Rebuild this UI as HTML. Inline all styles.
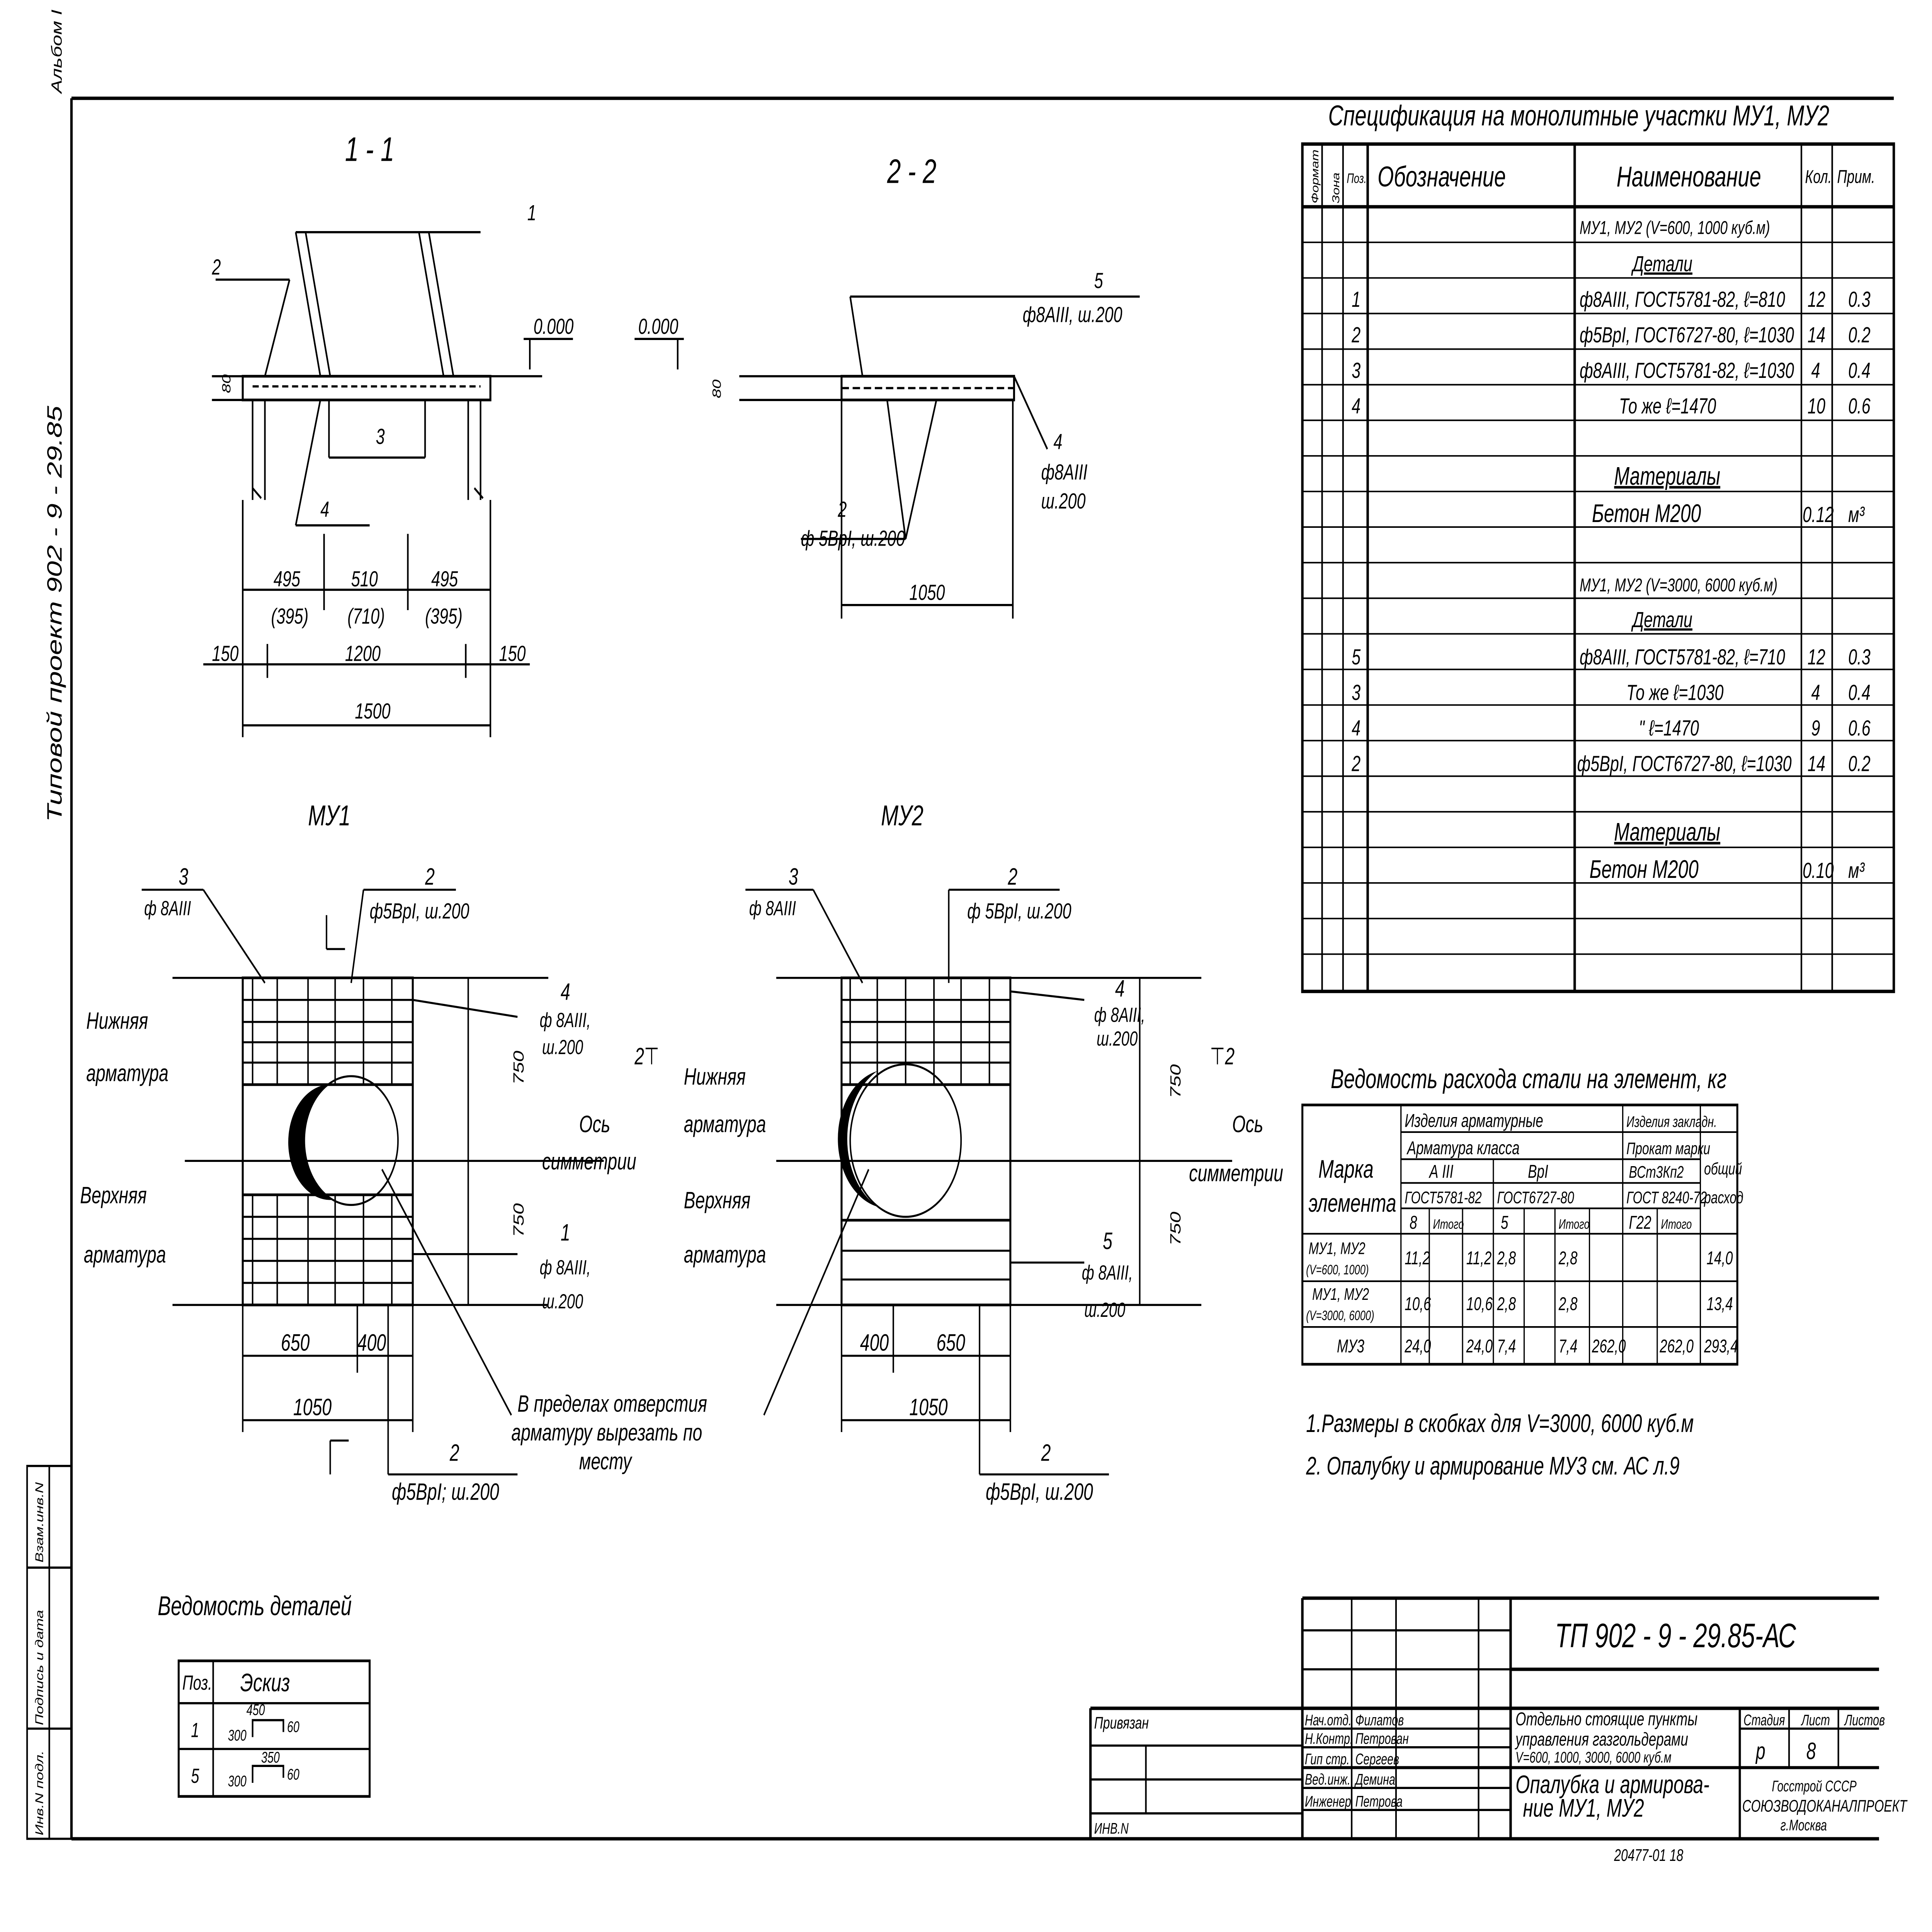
<!DOCTYPE html>
<html><head><meta charset="utf-8">
<style>
html,body{margin:0;padding:0;background:#fff;width:100vw;height:100vh;overflow:hidden;}
svg{display:block;width:100vw;height:100vh;}
text{font-family:"Liberation Sans","DejaVu Sans",sans-serif;font-style:italic;fill:#000;}
</style></head>
<body>
<svg xmlns="http://www.w3.org/2000/svg" viewBox="0 0 1568 1140" preserveAspectRatio="none">
<rect width="1568" height="1140" fill="#fff"/>
<g stroke="#000" fill="none" stroke-width="1.3">
<line x1="58" y1="58" x2="1537" y2="58" stroke-width="2"/>
<line x1="58" y1="58" x2="58" y2="1085" stroke-width="2"/>
<line x1="58" y1="1085" x2="1525" y2="1085" stroke-width="2"/>
<rect x="22" y="865" width="36" height="220"/>
<line x1="40" y1="865" x2="40" y2="1085"/>
<line x1="22" y1="925" x2="58" y2="925"/>
<line x1="22" y1="1020" x2="58" y2="1020"/>
</g>
<text transform="translate(50,485) rotate(-90)" font-size="17">Типовой  проект  902 - 9 - 29.85</text>
<text transform="translate(50,55) rotate(-90)" font-size="12">Альбом I</text>
<text transform="translate(35,1083) rotate(-90)" font-size="9">Инв.N подл.</text>
<text transform="translate(35,1018) rotate(-90)" font-size="9">Подпись и дата</text>
<text transform="translate(35,922) rotate(-90)" font-size="9">Взам.инв.N</text>

<text x="1078" y="74" font-size="17">Спецификация на монолитные участки МУ1, МУ2</text>
<g stroke="#000" fill="none" stroke-width="1.3">
<rect x="1057" y="85" width="480" height="500" stroke-width="2"/>
<line x1="1057" y1="122" x2="1537" y2="122" stroke-width="2"/>
<line x1="1073" y1="85" x2="1073" y2="585"/>
<line x1="1090" y1="85" x2="1090" y2="585"/>
<line x1="1110" y1="85" x2="1110" y2="585" stroke-width="2"/>
<line x1="1278" y1="85" x2="1278" y2="585" stroke-width="2"/>
<line x1="1462" y1="85" x2="1462" y2="585"/>
<line x1="1487" y1="85" x2="1487" y2="585"/>
</g>
<g stroke="#000" stroke-width="0.9">
<line x1="1057" y1="143" x2="1537" y2="143"/><line x1="1057" y1="164" x2="1537" y2="164"/>
<line x1="1057" y1="185" x2="1537" y2="185"/><line x1="1057" y1="206" x2="1537" y2="206"/>
<line x1="1057" y1="227" x2="1537" y2="227"/><line x1="1057" y1="248" x2="1537" y2="248"/>
<line x1="1057" y1="269" x2="1537" y2="269"/><line x1="1057" y1="290" x2="1537" y2="290"/>
<line x1="1057" y1="311" x2="1537" y2="311"/><line x1="1057" y1="332" x2="1537" y2="332"/>
<line x1="1057" y1="353" x2="1537" y2="353"/><line x1="1057" y1="374" x2="1537" y2="374"/>
<line x1="1057" y1="395" x2="1537" y2="395"/><line x1="1057" y1="416" x2="1537" y2="416"/>
<line x1="1057" y1="437" x2="1537" y2="437"/><line x1="1057" y1="458" x2="1537" y2="458"/>
<line x1="1057" y1="479" x2="1537" y2="479"/><line x1="1057" y1="500" x2="1537" y2="500"/>
<line x1="1057" y1="521" x2="1537" y2="521"/><line x1="1057" y1="542" x2="1537" y2="542"/>
<line x1="1057" y1="563" x2="1537" y2="563"/>
</g>
<text transform="translate(1070,120) rotate(-90)" font-size="8">Формат</text>
<text transform="translate(1087,120) rotate(-90)" font-size="8">Зона</text>
<text x="1093" y="108" font-size="8">Поз.</text>
<text x="1118" y="110" font-size="17">Обозначение</text>
<text x="1312" y="110" font-size="17">Наименование</text>
<text x="1465" y="108" font-size="11">Кол.</text>
<text x="1491" y="108" font-size="11">Прим.</text>
<g font-size="13">
<text x="1282" y="138" font-size="11">МУ1, МУ2 (V=600, 1000 куб.м)</text>
<text x="1325" y="160" text-decoration="underline">Детали</text>
<text x="1097" y="181">1</text><text x="1282" y="181">ф8АIII, ГОСТ5781-82, ℓ=810</text><text x="1467" y="181">12</text><text x="1500" y="181">0.3</text>
<text x="1097" y="202">2</text><text x="1282" y="202">ф5ВрI, ГОСТ6727-80, ℓ=1030</text><text x="1467" y="202">14</text><text x="1500" y="202">0.2</text>
<text x="1097" y="223">3</text><text x="1282" y="223">ф8АIII, ГОСТ5781-82, ℓ=1030</text><text x="1470" y="223">4</text><text x="1500" y="223">0.4</text>
<text x="1097" y="244">4</text><text x="1314" y="244">То же     ℓ=1470</text><text x="1467" y="244">10</text><text x="1500" y="244">0.6</text>
<text x="1310" y="286" font-size="15" text-decoration="underline">Материалы</text>
<text x="1292" y="308" font-size="15">Бетон  М200</text><text x="1463" y="308">0.12</text><text x="1500" y="308">м³</text>
<text x="1282" y="349" font-size="11">МУ1, МУ2 (V=3000, 6000 куб.м)</text>
<text x="1325" y="370" text-decoration="underline">Детали</text>
<text x="1097" y="392">5</text><text x="1282" y="392">ф8АIII, ГОСТ5781-82, ℓ=710</text><text x="1467" y="392">12</text><text x="1500" y="392">0.3</text>
<text x="1097" y="413">3</text><text x="1320" y="413">То же       ℓ=1030</text><text x="1470" y="413">4</text><text x="1500" y="413">0.4</text>
<text x="1097" y="434">4</text><text x="1330" y="434">"           ℓ=1470</text><text x="1470" y="434">9</text><text x="1500" y="434">0.6</text>
<text x="1097" y="455">2</text><text x="1280" y="455">ф5ВрI, ГОСТ6727-80, ℓ=1030</text><text x="1467" y="455">14</text><text x="1500" y="455">0.2</text>
<text x="1310" y="496" font-size="15" text-decoration="underline">Материалы</text>
<text x="1290" y="518" font-size="15">Бетон  М200</text><text x="1463" y="518">0.10</text><text x="1500" y="518">м³</text>
</g>

<text x="1080" y="642" font-size="16">Ведомость расхода стали на элемент, кг</text>
<g stroke="#000" fill="none" stroke-width="1">
<rect x="1057" y="652" width="353" height="153" stroke-width="1.6"/>
<line x1="1137" y1="652" x2="1137" y2="805"/>
<line x1="1137" y1="668" x2="1410" y2="668"/>
<line x1="1137" y1="684" x2="1380" y2="684"/>
<line x1="1137" y1="698" x2="1380" y2="698"/>
<line x1="1137" y1="713" x2="1380" y2="713"/>
<line x1="1057" y1="728" x2="1410" y2="728"/>
<line x1="1057" y1="756" x2="1410" y2="756"/>
<line x1="1057" y1="783" x2="1410" y2="783"/>
<line x1="1317" y1="652" x2="1317" y2="805"/>
<line x1="1380" y1="652" x2="1380" y2="805"/>
<line x1="1212" y1="684" x2="1212" y2="805"/>
<line x1="1160" y1="713" x2="1160" y2="805"/>
<line x1="1187" y1="713" x2="1187" y2="805"/>
<line x1="1237" y1="713" x2="1237" y2="805"/>
<line x1="1262" y1="713" x2="1262" y2="805"/>
<line x1="1290" y1="713" x2="1290" y2="805"/>
<line x1="1345" y1="713" x2="1345" y2="805"/>
</g>
<g font-size="11">
<text x="1140" y="665">Изделия арматурные</text><text x="1320" y="665" font-size="9">Изделия закладн.</text>
<text x="1142" y="681">Арматура      класса</text><text x="1320" y="681" font-size="10">Прокат марки</text>
<text x="1160" y="695">А III</text><text x="1240" y="695">ВрI</text><text x="1322" y="695" font-size="10">ВСт3Кп2</text>
<text x="1140" y="710" font-size="10">ГОСТ5781-82</text><text x="1215" y="710" font-size="10">ГОСТ6727-80</text><text x="1320" y="710" font-size="10">ГОСТ 8240-72</text>
<text x="1144" y="725">8</text><text x="1163" y="725" font-size="8">Итого</text><text x="1218" y="725">5</text><text x="1265" y="725" font-size="8">Итого</text><text x="1322" y="725">Г22</text><text x="1348" y="725" font-size="8">Итого</text>
<text x="1383" y="693" font-size="10">общий</text><text x="1383" y="710" font-size="10">расход</text>
<text x="1070" y="695" font-size="15">Марка</text><text x="1062" y="715" font-size="15">элемента</text>
<text x="1062" y="740" font-size="10">МУ1, МУ2</text><text x="1060" y="752" font-size="8">(V=600, 1000)</text>
<text x="1140" y="746">11,2</text><text x="1190" y="746">11,2</text><text x="1215" y="746">2,8</text><text x="1265" y="746">2,8</text><text x="1385" y="746">14,0</text>
<text x="1065" y="767" font-size="10">МУ1, МУ2</text><text x="1060" y="779" font-size="8">(V=3000, 6000)</text>
<text x="1140" y="773">10,6</text><text x="1190" y="773">10,6</text><text x="1215" y="773">2,8</text><text x="1265" y="773">2,8</text><text x="1385" y="773">13,4</text>
<text x="1085" y="798">МУ3</text><text x="1140" y="798">24,0</text><text x="1190" y="798">24,0</text><text x="1215" y="798">7,4</text><text x="1265" y="798">7,4</text><text x="1292" y="798">262,0</text><text x="1347" y="798">262,0</text><text x="1383" y="798">293,4</text>
</g>
<text x="1060" y="845" font-size="15">1.Размеры в скобках  для  V=3000, 6000 куб.м</text>
<text x="1060" y="870" font-size="15">2. Опалубку  и  армирование  МУ3 см. АС л.9</text>

<g stroke="#000" fill="none" stroke-width="1.3">
<line x1="1057" y1="943" x2="1525" y2="943" stroke-width="2"/>
<line x1="1057" y1="943" x2="1057" y2="1085" stroke-width="2"/>
<line x1="1097" y1="943" x2="1097" y2="1085"/>
<line x1="1133" y1="943" x2="1133" y2="1085"/>
<line x1="1200" y1="943" x2="1200" y2="1085"/>
<line x1="1226" y1="943" x2="1226" y2="1085" stroke-width="2"/>
<line x1="1057" y1="962" x2="1226" y2="962"/>
<line x1="1057" y1="985" x2="1226" y2="985"/>
<line x1="1226" y1="985" x2="1525" y2="985" stroke-width="2"/>
<line x1="1057" y1="1008" x2="1525" y2="1008" stroke-width="2"/>
<line x1="885" y1="1008" x2="1057" y2="1008" stroke-width="2"/>
<line x1="885" y1="1008" x2="885" y2="1085" stroke-width="2"/>
<line x1="885" y1="1030" x2="1057" y2="1030"/>
<line x1="885" y1="1050" x2="1057" y2="1050"/>
<line x1="885" y1="1070" x2="1057" y2="1070"/>
<line x1="930" y1="1030" x2="930" y2="1070"/>
<line x1="1057" y1="1020" x2="1226" y2="1020"/>
<line x1="1057" y1="1031" x2="1226" y2="1031"/>
<line x1="1057" y1="1043" x2="1525" y2="1043" stroke-width="1.8"/>
<line x1="1057" y1="1055" x2="1226" y2="1055"/>
<line x1="1057" y1="1068" x2="1226" y2="1068"/>
<line x1="1412" y1="1008" x2="1412" y2="1085" stroke-width="1.8"/>
<line x1="1452" y1="1008" x2="1452" y2="1043"/>
<line x1="1492" y1="1008" x2="1492" y2="1043"/>
<line x1="1412" y1="1020" x2="1525" y2="1020"/>
</g>
<text x="1262" y="972" font-size="20">ТП 902 - 9 - 29.85-АС</text>
<text x="888" y="1020" font-size="10">Привязан</text>
<text x="888" y="1082" font-size="9">ИНВ.N</text>
<g font-size="9">
<text x="1059" y="1018">Нач.отд.</text><text x="1100" y="1018">Филатов</text>
<text x="1059" y="1029">Н.Контр.</text><text x="1100" y="1029">Петрован</text>
<text x="1059" y="1041">Гип стр.</text><text x="1100" y="1041">Сергеев</text>
<text x="1059" y="1053">Вед.инж.</text><text x="1100" y="1053">Демина</text>
<text x="1059" y="1066">Инженер</text><text x="1100" y="1066">Петрова</text>
<text x="1230" y="1018" font-size="11">Отдельно стоящие  пункты</text>
<text x="1230" y="1030" font-size="11">управления  газгольдерами</text>
<text x="1230" y="1040" font-size="9">V=600, 1000, 3000, 6000 куб.м</text>
<text x="1230" y="1058" font-size="15">Опалубка   и   армирова-</text>
<text x="1236" y="1072" font-size="15">ние    МУ1, МУ2</text>
<text x="1415" y="1018">Стадия</text><text x="1462" y="1018">Лист</text><text x="1497" y="1018">Листов</text>
<text x="1425" y="1038" font-size="14">р</text><text x="1466" y="1038" font-size="14">8</text>
<text x="1438" y="1057" font-size="9">Госстрой СССР</text>
<text x="1414" y="1069" font-size="10">СОЮЗВОДОКАНАЛПРОЕКТ</text>
<text x="1445" y="1080" font-size="9">г.Москва</text>
<text x="1310" y="1098" font-size="10">20477-01   18</text>
</g>

<text x="280" y="95" font-size="20">1 - 1</text>
<g stroke="#000" fill="none" stroke-width="1.3">
<rect x="197" y="222" width="201" height="14" stroke-width="1.6"/>
<line x1="205" y1="236" x2="205" y2="295"/><line x1="215" y1="236" x2="215" y2="295"/>
<line x1="380" y1="236" x2="380" y2="295"/><line x1="390" y1="236" x2="390" y2="295"/>
<line x1="205" y1="228" x2="390" y2="228" stroke-dasharray="5,3"/>
<line x1="240" y1="137" x2="260" y2="222"/><line x1="248" y1="137" x2="268" y2="222"/>
<line x1="340" y1="137" x2="360" y2="222"/><line x1="348" y1="137" x2="368" y2="222"/>
<line x1="240" y1="137" x2="390" y2="137"/>
<line x1="267" y1="236" x2="267" y2="270"/><line x1="267" y1="270" x2="345" y2="270"/><line x1="345" y1="236" x2="345" y2="270"/>
<line x1="175" y1="165" x2="235" y2="165"/><line x1="235" y1="165" x2="215" y2="222"/>
<line x1="172" y1="222" x2="197" y2="222"/><line x1="172" y1="236" x2="197" y2="236"/>
<line x1="398" y1="222" x2="440" y2="222"/><line x1="425" y1="200" x2="465" y2="200"/><line x1="430" y1="200" x2="430" y2="218"/>
<line x1="240" y1="310" x2="300" y2="310"/><line x1="240" y1="310" x2="260" y2="236"/>
<line x1="197" y1="295" x2="197" y2="435"/><line x1="398" y1="295" x2="398" y2="435"/>
<line x1="217" y1="380" x2="217" y2="400"/><line x1="378" y1="380" x2="378" y2="400"/>
<line x1="263" y1="315" x2="263" y2="360"/><line x1="331" y1="315" x2="331" y2="360"/>
<line x1="197" y1="348" x2="398" y2="348"/>
<line x1="165" y1="392" x2="430" y2="392"/>
<line x1="197" y1="428" x2="398" y2="428"/>
<line x1="205" y1="288" x2="212" y2="294"/><line x1="385" y1="288" x2="392" y2="294"/>
</g>
<g font-size="13">
<text x="428" y="130">1</text><text x="172" y="162">2</text><text x="433" y="197">0.000</text>
<text transform="translate(187,232) rotate(-90)" font-size="10">80</text>
<text x="305" y="262">3</text><text x="260" y="305">4</text>
<text x="222" y="346">495</text><text x="285" y="346">510</text><text x="350" y="346">495</text>
<text x="220" y="368">(395)</text><text x="282" y="368">(710)</text><text x="345" y="368">(395)</text>
<text x="172" y="390">150</text><text x="280" y="390">1200</text><text x="405" y="390">150</text>
<text x="288" y="424">1500</text>
</g>

<text x="720" y="108" font-size="20">2 - 2</text>
<g stroke="#000" fill="none" stroke-width="1.3">
<rect x="683" y="222" width="140" height="14" stroke-width="1.6"/>
<line x1="683" y1="229" x2="823" y2="229" stroke-dasharray="6,3"/>
<line x1="600" y1="222" x2="683" y2="222"/><line x1="600" y1="236" x2="683" y2="236"/>
<line x1="515" y1="200" x2="555" y2="200"/><line x1="550" y1="200" x2="550" y2="218"/>
<line x1="690" y1="175" x2="925" y2="175"/><line x1="690" y1="175" x2="700" y2="222"/>
<line x1="823" y1="222" x2="850" y2="265"/>
<line x1="650" y1="318" x2="735" y2="318"/><line x1="735" y1="318" x2="720" y2="236"/><line x1="735" y1="318" x2="760" y2="236"/>
<line x1="683" y1="236" x2="683" y2="365"/><line x1="822" y1="236" x2="822" y2="365"/>
<line x1="683" y1="357" x2="822" y2="357"/>
</g>
<g font-size="13">
<text x="518" y="197">0.000</text>
<text transform="translate(585,235) rotate(-90)" font-size="10">80</text>
<text x="888" y="170">5</text><text x="830" y="190">ф8АIII, ш.200</text>
<text x="855" y="265">4</text><text x="845" y="283">ф8АIII</text><text x="845" y="300">ш.200</text>
<text x="680" y="305">2</text><text x="650" y="322">ф 5ВрI, ш.200</text>
<text x="738" y="354">1050</text>
</g>

<text x="250" y="487" font-size="17">МУ1</text>
<g stroke="#000" fill="none" stroke-width="1.2">
<rect x="197" y="577" width="138" height="193" stroke-width="1.6"/>
<line x1="197" y1="640" x2="335" y2="640" stroke-width="1.6"/>
<line x1="197" y1="705" x2="335" y2="705" stroke-width="1.6"/>
<line x1="197" y1="590" x2="335" y2="590"/><line x1="197" y1="603" x2="335" y2="603"/><line x1="197" y1="615" x2="335" y2="615"/><line x1="197" y1="627" x2="335" y2="627"/>
<line x1="197" y1="718" x2="335" y2="718"/><line x1="197" y1="731" x2="335" y2="731"/><line x1="197" y1="744" x2="335" y2="744"/><line x1="197" y1="757" x2="335" y2="757"/>
<line x1="205" y1="577" x2="205" y2="640"/><line x1="225" y1="577" x2="225" y2="640"/><line x1="250" y1="577" x2="250" y2="640"/><line x1="272" y1="577" x2="272" y2="640"/><line x1="295" y1="577" x2="295" y2="640"/><line x1="318" y1="577" x2="318" y2="640"/>
<line x1="205" y1="705" x2="205" y2="770"/><line x1="225" y1="705" x2="225" y2="770"/><line x1="250" y1="705" x2="250" y2="770"/><line x1="272" y1="705" x2="272" y2="770"/><line x1="295" y1="705" x2="295" y2="770"/><line x1="318" y1="705" x2="318" y2="770"/>
<line x1="150" y1="685" x2="490" y2="685"/>
<line x1="140" y1="577" x2="445" y2="577"/><line x1="140" y1="770" x2="445" y2="770"/>
<line x1="380" y1="577" x2="380" y2="770"/>
<line x1="197" y1="770" x2="197" y2="845"/><line x1="335" y1="770" x2="335" y2="845"/><line x1="290" y1="770" x2="290" y2="810"/>
<line x1="197" y1="800" x2="335" y2="800"/><line x1="197" y1="838" x2="335" y2="838"/>
<line x1="115" y1="525" x2="165" y2="525"/><line x1="165" y1="525" x2="215" y2="580"/>
<line x1="295" y1="525" x2="370" y2="525"/><line x1="295" y1="525" x2="285" y2="580"/>
<line x1="420" y1="600" x2="335" y2="590"/><line x1="420" y1="740" x2="335" y2="740"/>
<line x1="265" y1="540" x2="265" y2="560"/><line x1="265" y1="560" x2="280" y2="560"/>
<line x1="268" y1="850" x2="268" y2="870"/><line x1="268" y1="850" x2="283" y2="850"/>
<line x1="315" y1="770" x2="315" y2="870"/><line x1="315" y1="870" x2="420" y2="870"/>
<line x1="310" y1="690" x2="415" y2="835"/>
<circle cx="285" cy="673" r="38"/>
</g>
<path d="M266,640 A38,38 0 0 0 270,708 A34,34 0 0 1 266,640 Z" fill="#000"/>
<g font-size="14">
<text x="145" y="522">3</text><text x="117" y="540" font-size="12">ф 8АIII</text>
<text x="345" y="522">2</text><text x="300" y="542" font-size="13">ф5ВрI, ш.200</text>
<text x="70" y="607">Нижняя</text><text x="70" y="638">арматура</text>
<text x="65" y="710">Верхняя</text><text x="68" y="745">арматура</text>
<text x="455" y="590">4</text><text x="438" y="606" font-size="12">ф 8АIII,</text><text x="440" y="622" font-size="12">ш.200</text>
<text x="470" y="668">Ось</text><text x="440" y="690">симметрии</text>
<text x="455" y="732">1</text><text x="438" y="752" font-size="12">ф 8АIII,</text><text x="440" y="772" font-size="12">ш.200</text>
<text transform="translate(425,640) rotate(-90)" font-size="12">750</text>
<text transform="translate(425,730) rotate(-90)" font-size="12">750</text>
<text x="228" y="797">650</text><text x="290" y="797">400</text><text x="238" y="835">1050</text>
<text x="365" y="862">2</text><text x="318" y="885">ф5ВрI; ш.200</text>
<text x="420" y="833">В пределах  отверстия</text>
<text x="415" y="850">арматуру вырезать  по</text>
<text x="470" y="867">месту</text>
<text x="515" y="628">2⊤</text>
</g>

<text x="715" y="487" font-size="17">МУ2</text>
<g stroke="#000" fill="none" stroke-width="1.2">
<rect x="683" y="577" width="137" height="193" stroke-width="1.6"/>
<line x1="683" y1="640" x2="820" y2="640" stroke-width="1.6"/>
<line x1="683" y1="720" x2="820" y2="720" stroke-width="1.6"/>
<line x1="683" y1="590" x2="820" y2="590"/><line x1="683" y1="603" x2="820" y2="603"/><line x1="683" y1="615" x2="820" y2="615"/><line x1="683" y1="627" x2="820" y2="627"/>
<line x1="683" y1="738" x2="820" y2="738"/><line x1="683" y1="755" x2="820" y2="755"/>
<line x1="690" y1="577" x2="690" y2="640"/><line x1="712" y1="577" x2="712" y2="640"/><line x1="735" y1="577" x2="735" y2="640"/><line x1="758" y1="577" x2="758" y2="640"/><line x1="780" y1="577" x2="780" y2="640"/><line x1="803" y1="577" x2="803" y2="640"/>
<line x1="630" y1="685" x2="1000" y2="685"/>
<line x1="630" y1="577" x2="975" y2="577"/><line x1="630" y1="770" x2="975" y2="770"/>
<line x1="925" y1="577" x2="925" y2="770"/>
<line x1="683" y1="770" x2="683" y2="845"/><line x1="820" y1="770" x2="820" y2="845"/><line x1="725" y1="770" x2="725" y2="810"/>
<line x1="683" y1="800" x2="820" y2="800"/><line x1="683" y1="838" x2="820" y2="838"/>
<line x1="605" y1="525" x2="660" y2="525"/><line x1="660" y1="525" x2="700" y2="580"/>
<line x1="770" y1="525" x2="860" y2="525"/><line x1="770" y1="525" x2="770" y2="580"/>
<line x1="880" y1="590" x2="820" y2="585"/><line x1="880" y1="745" x2="820" y2="745"/>
<line x1="795" y1="770" x2="795" y2="870"/><line x1="795" y1="870" x2="900" y2="870"/>
<line x1="705" y1="690" x2="620" y2="835"/>
<circle cx="735" cy="673" r="45"/>
</g>
<path d="M712,632 A45,45 0 0 0 712,712 A41,41 0 0 1 712,632 Z" fill="#000"/>
<g font-size="14">
<text x="640" y="522">3</text><text x="608" y="540" font-size="12">ф 8АIII</text>
<text x="818" y="522">2</text><text x="785" y="542" font-size="13">ф 5ВрI, ш.200</text>
<text x="555" y="640">Нижняя</text><text x="555" y="668">арматура</text>
<text x="555" y="713">Верхняя</text><text x="555" y="745">арматура</text>
<text x="905" y="588">4</text><text x="888" y="603" font-size="12">ф 8АIII,</text><text x="890" y="617" font-size="12">ш.200</text>
<text x="1000" y="668">Ось</text><text x="965" y="697">симметрии</text>
<text x="895" y="737">5</text><text x="878" y="755" font-size="12">ф 8АIII,</text><text x="880" y="777" font-size="12">ш.200</text>
<text transform="translate(958,648) rotate(-90)" font-size="12">750</text>
<text transform="translate(958,735) rotate(-90)" font-size="12">750</text>
<text x="698" y="797">400</text><text x="760" y="797">650</text><text x="738" y="835">1050</text>
<text x="845" y="862">2</text><text x="800" y="885">ф5ВрI, ш.200</text>
<text x="982" y="628">⊤2</text>
</g>

<text x="128" y="953" font-size="16">Ведомость деталей</text>
<g stroke="#000" fill="none" stroke-width="1.3">
<rect x="145" y="980" width="155" height="80" stroke-width="1.6"/>
<line x1="173" y1="980" x2="173" y2="1060"/>
<line x1="145" y1="1005" x2="300" y2="1005"/>
<line x1="145" y1="1032" x2="300" y2="1032"/>
<path d="M205,1025 V1015 H230 V1022"/>
<path d="M205,1052 V1042 H230 V1049"/>
</g>
<g font-size="12">
<text x="148" y="997">Поз.</text><text x="195" y="998" font-size="15">Эскиз</text>
<text x="155" y="1025">1</text><text x="185" y="1027" font-size="9">300</text><text x="200" y="1012" font-size="9">450</text><text x="233" y="1022" font-size="9">60</text>
<text x="155" y="1052">5</text><text x="185" y="1054" font-size="9">300</text><text x="212" y="1040" font-size="9">350</text><text x="233" y="1050" font-size="9">60</text>
</g>
</svg>
</body></html>
